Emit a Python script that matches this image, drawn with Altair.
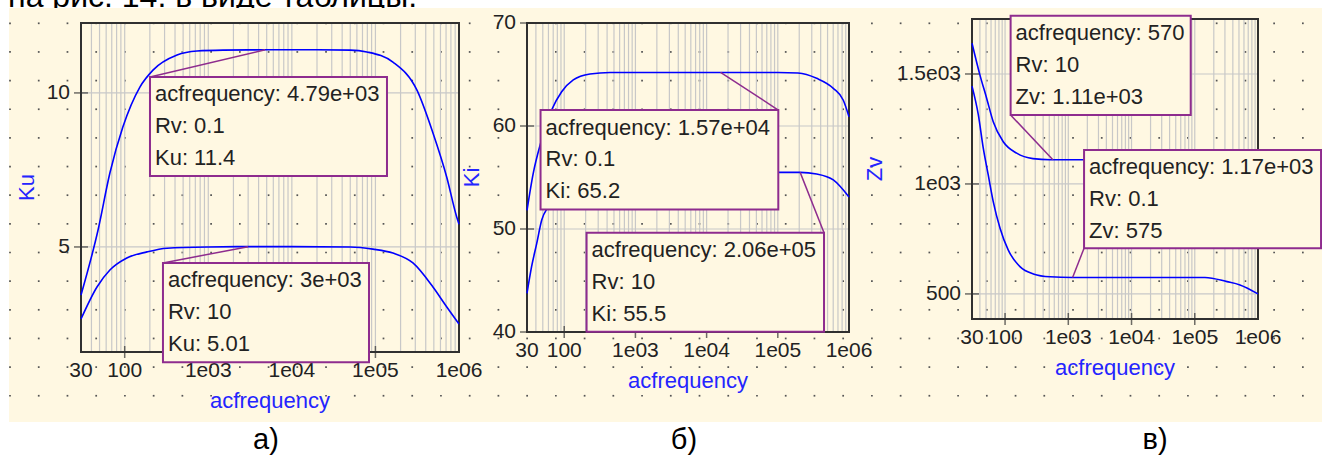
import altair as alt
import pandas as pd

W, H = 1322, 455
BEIGE = "#FFF8E2"
BLUE = "#0000FF"
TITLE_BLUE = "#2424FF"
PURPLE = "#8E2C8E"
FONT = "Liberation Sans"
TXT = "#222222"

# ---------------- values ----------------
# а) Ku(acfrequency)
ku_freq_rv01 = [30, 48, 66.5, 95, 152, 218, 423, 733, 1500, 4790, 20000, 50000, 79000,
                162000, 314000, 488000, 711000, 937000, 1000000]
ku_val_rv01 = [3.44, 5.55, 7.4, 8.89, 10.19, 10.74, 11.23, 11.36, 11.39, 11.4, 11.4, 11.39,
               11.33, 11.0, 10.09, 8.7, 7.28, 5.98, 5.74]
ku_freq_rv10 = [30, 46.6, 66.5, 106, 185, 321, 1000, 3000, 10000, 50000, 93300, 162000,
                281000, 488000, 711000, 1000000]
ku_val_rv10 = [2.66, 3.70, 4.25, 4.64, 4.84, 4.96, 5.0, 5.01, 5.01, 5.0, 4.93, 4.80,
               4.48, 3.70, 3.06, 2.50]

# б) Ki(acfrequency)
ki_freq_rv01 = [30, 36.7, 46.5, 66.5, 92, 134, 230, 440, 1000, 15700, 100000, 192000,
                351000, 602000, 832000, 1000000]
ki_val_rv01 = [51.8, 55.4, 58.3, 61.55, 63.33, 64.47, 65.05, 65.2, 65.2, 65.2, 65.2, 65.15,
               64.63, 63.66, 62.5, 60.9]
ki_freq_rv10 = [30, 34.8, 41.1, 48.3, 59.7, 100, 200, 500, 1000, 10000, 206000, 351000,
                602000, 1000000]
ki_val_rv10 = [43.76, 46.34, 48.61, 50.87, 52.16, 53.8, 54.9, 55.35, 55.45, 55.5, 55.5,
               55.34, 54.76, 53.1]

# в) Zv(acfrequency)
zv_freq_rv10 = [30, 40.1, 51.1, 65, 93.6, 152.5, 276, 513, 570, 1000, 10000, 100000,
                300000, 1000000]
zv_val_rv10 = [1640, 1495, 1390, 1283, 1192, 1140, 1115, 1110, 1110, 1110, 1110, 1108,
               1095, 1040]
zv_freq_rv01 = [30, 37.8, 45.3, 54.2, 65, 83.3, 112, 172, 280, 513, 1170, 10000, 145000,
                324000, 519000, 1000000]
zv_val_rv01 = [1445, 1314, 1162, 1041, 920, 799, 700, 624, 591, 578, 575, 575, 575,
               556, 541, 500]

# markers (annotation boxes)
ku_marker_freq = [4790, 3000]
ku_marker_rv = [0.1, 10]
ku_marker_val = [11.4, 5.01]
ki_marker_freq = [15700, 206000]
ki_marker_rv = [0.1, 10]
ki_marker_val = [65.2, 55.5]
zv_marker_freq = [570, 1170]
zv_marker_rv = [10, 0.1]
zv_marker_val = [1110, 575]

# tick labels
x_tick_values = [30, 100, 1000, 10000, 100000, 1000000]
x_tick_labels = ["30", "100", "1e03", "1e04", "1e05", "1e06"]
ku_tick_values = [5, 10]
ku_tick_labels = ["5", "10"]
ki_tick_values = [40, 50, 60, 70]
ki_tick_labels = ["40", "50", "60", "70"]
zv_tick_values = [500, 1000, 1500]
zv_tick_labels = ["500", "1e03", "1.5e03"]

panel_letters = ["а)", "б)", "в)"]
page_text = "на рис. 14. в виде таблицы."

# ---------------- layout / style (not data) ----------------
# box placement in each panel's data units: (left f, right f, top, bottom, corner)
ku_boxes = [(200.7, 137500, 10.52, 7.30, "tl"), (287, 83760, 4.48, 1.26, "tl")]
ki_boxes = [(46.5, 101600, 61.55, 51.9, "tr"), (206, 445800, 49.64, 40.03, "tr")]
zv_boxes = [(122.4, 86300, 1765, 1313.7, "bl"), (1775, 9.93e6, 1154.6, 707.8, "bl")]

grid_freqs = [k * 10 ** n for n in range(1, 6) for k in range(1, 10) if 30 < k * 10 ** n < 1e6]
major_inner = [100, 1000, 10000, 100000]


def panel(name, fa, va, ra, fb, vb, rb, mf, mrv, mv, boxes,
          ydom, xr, yr, yvals, ylabs, ytitle_px):
    xs = alt.Scale(type="log", domain=[30, 1e6], range=xr, nice=False)
    ys = alt.Scale(type="linear", domain=ydom, range=yr, nice=False, zero=False)

    def X(f):
        return alt.X(f, type="quantitative", scale=xs, axis=None)

    def Y(f):
        return alt.Y(f, type="quantitative", scale=ys, axis=None)

    curves = pd.DataFrame({
        "f": list(fa) + list(fb),
        "v": list(va) + list(vb),
        "rv": [str(ra)] * len(fa) + [str(rb)] * len(fb),
    })
    gv = pd.DataFrame({"f": grid_freqs, "y0": ydom[0], "y1": ydom[1]})
    inner_y = [v for v in yvals if ydom[0] < v < ydom[1]]
    gh = pd.DataFrame({"v": inner_y, "f0": 30, "f1": 1e6})
    frame = pd.DataFrame({"f0": [30], "f1": [1e6], "y0": [ydom[0]], "y1": [ydom[1]]})
    xt = pd.DataFrame({"f": major_inner, "v": ydom[0]})
    yt = pd.DataFrame({"v": yvals, "f": 30})
    xl = pd.DataFrame({"f": x_tick_values, "v": ydom[0], "lab": x_tick_labels})
    yl = pd.DataFrame({"v": yvals, "f": 30, "lab": ylabs})
    xtitle = pd.DataFrame({"f": [(30 * 1e6) ** 0.5], "v": [ydom[0]], "lab": ["acfrequency"]})
    ytitle = pd.DataFrame({"lab": [name]})

    rows = []
    for (f1, f2, top, bot, corner), f, r, v in zip(boxes, mf, mrv, mv):
        cf = f1 if corner[1] == "l" else f2
        cv = top if corner[0] == "t" else bot
        rows.append({"f1": f1, "f2": f2, "top": top, "bot": bot, "cf": cf, "cv": cv,
                     "mf": f, "mv": v,
                     "label": f"acfrequency: {f:.3g}\nRv: {r:g}\n{name}: {v:.3g}"})
    bx = pd.DataFrame(rows)

    layers = [
        alt.Chart(gv).mark_rule(color="#C8C8C8", strokeWidth=1.2).encode(
            x=X("f"), y=Y("y0"), y2=alt.Y2("y1")),
        alt.Chart(gh).mark_rule(color="#C8C8C8", strokeWidth=1.2).encode(
            x=X("f0"), x2=alt.X2("f1"), y=Y("v")),
        alt.Chart(xl).mark_text(align="center", baseline="top", dy=8, font=FONT,
                                fontSize=21, color=TXT).encode(
            x=X("f"), y=Y("v"), text="lab:N"),
        alt.Chart(yl).mark_text(align="right", baseline="middle", dx=-11, font=FONT,
                                fontSize=21, color=TXT).encode(
            x=X("f"), y=Y("v"), text="lab:N"),
        alt.Chart(xtitle).mark_text(align="center", baseline="alphabetic", dy=56, font=FONT,
                                    fontSize=22, color=TITLE_BLUE).encode(
            x=X("f"), y=Y("v"), text="lab:N"),
        alt.Chart(ytitle).mark_text(align="center", baseline="middle", angle=270, font=FONT,
                                    fontSize=22, color=TITLE_BLUE).encode(
            x=alt.value(ytitle_px), y=alt.value((yr[0] + yr[1]) / 2), text="lab:N"),
        alt.Chart(frame).mark_rect(fillOpacity=0, stroke="#303030", strokeWidth=2).encode(
            x=X("f0"), x2=alt.X2("f1"), y=Y("y0"), y2=alt.Y2("y1")),
        alt.Chart(curves).mark_line(color=BLUE, strokeWidth=1.6, interpolate="monotone").encode(
            x=X("f"), y=Y("v"), detail="rv:N"),
        alt.Chart(xt).mark_tick(orient="vertical", size=12, thickness=1.5, color="#303030").encode(
            x=X("f"), y=Y("v")),
        alt.Chart(yt).mark_tick(orient="horizontal", size=14, thickness=1.5, color="#303030").encode(
            x=X("f"), y=Y("v")),
        alt.Chart(bx).mark_rule(color=PURPLE, strokeWidth=1.5).encode(
            x=X("cf"), x2=alt.X2("mf"), y=Y("cv"), y2=alt.Y2("mv")),
        alt.Chart(bx).mark_rect(fill=BEIGE, stroke=PURPLE, strokeWidth=2).encode(
            x=X("f1"), x2=alt.X2("f2"), y=Y("top"), y2=alt.Y2("bot")),
        alt.Chart(bx).mark_text(align="left", baseline="alphabetic", dx=5, dy=24.5,
                                lineBreak="\n", lineHeight=31.8, font=FONT, fontSize=22,
                                color=TXT).encode(
            x=X("f1"), y=Y("top"), text="label:N"),
    ]
    return alt.layer(*layers)


pa = panel("Ku", ku_freq_rv01, ku_val_rv01, 0.1, ku_freq_rv10, ku_val_rv10, 10,
           ku_marker_freq, ku_marker_rv, ku_marker_val, ku_boxes,
           [1.59, 12.27], [81, 459], [352, 23], ku_tick_values, ku_tick_labels, 27)
pb = panel("Ki", ki_freq_rv01, ki_val_rv01, 0.1, ki_freq_rv10, ki_val_rv10, 10,
           ki_marker_freq, ki_marker_rv, ki_marker_val, ki_boxes,
           [40, 70], [527, 849], [332, 23], ki_tick_values, ki_tick_labels, 472)
pc = panel("Zv", zv_freq_rv10, zv_val_rv10, 10, zv_freq_rv01, zv_val_rv01, 0.1,
           zv_marker_freq, zv_marker_rv, zv_marker_val, zv_boxes,
           [386, 1750], [972, 1258], [319, 19], zv_tick_values, zv_tick_labels, 875)

one = pd.DataFrame({"t": [page_text]})


def strip(x1, x2, y1, y2, color):
    return alt.Chart(one).mark_rect(color=color).encode(
        x=alt.value(x1), x2=alt.value(x2), y=alt.value(y1), y2=alt.value(y2))


dots = pd.DataFrame([{"px": 10 + 28.73 * i, "py": 23.3 + 28.65 * j}
                     for i in range(46) for j in range(14)])
dot_layer = alt.Chart(dots).mark_square(size=3, color="#555555", opacity=1).encode(
    x=alt.X("px:Q", scale=None), y=alt.Y("py:Q", scale=None))

top_text = alt.Chart(one).mark_text(align="left", baseline="alphabetic", font=FONT,
                                    fontSize=32, color="#000000").encode(
    x=alt.value(8), y=alt.value(7), text="t:N")

letter_layers = []
for txt, cx in zip(panel_letters, [266, 684, 1155]):
    letter_layers.append(
        alt.Chart(pd.DataFrame({"t": [txt]})).mark_text(
            align="center", baseline="alphabetic", font=FONT, fontSize=29,
            color="#000000").encode(x=alt.value(cx), y=alt.value(449), text="t:N"))

chart = alt.layer(
    strip(0, W, 0, 8, "#FFFFFF"),
    strip(0, 9, 0, H, "#FFFFFF"),
    strip(0, W, 422, H, "#FFFFFF"),
    top_text,
    strip(9, 480, 8, 16, BEIGE),
    dot_layer,
    pa, pb, pc,
    *letter_layers,
).resolve_scale(x="independent", y="independent").properties(
    width=W, height=H, autosize=alt.AutoSizeParams(type="none"), padding=0,
    background=BEIGE,
).configure_view(stroke="transparent")

chart.save("out.html", embed_options={"renderer": "svg", "actions": False})
